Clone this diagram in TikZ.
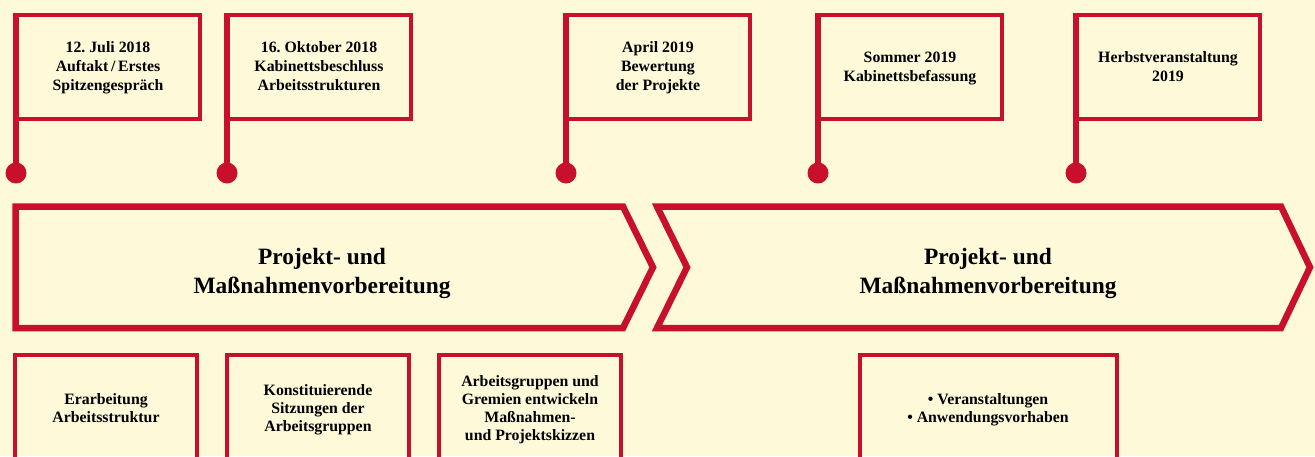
\documentclass[tikz,border=0pt]{standalone}
\usepackage{fontspec}
\setmainfont{Liberation Serif}
\usetikzlibrary{positioning}
\definecolor{flagred}{RGB}{200,16,46}
\definecolor{paper}{RGB}{254,249,216}
\frenchspacing

\begin{document}
\begin{tikzpicture}[x=1pt,y=-1pt]
\tikzstyle{flag}=[rectangle, draw=flagred, line width=4pt, minimum width=184pt, minimum height=104pt, inner sep=0pt, outer sep=0pt, text depth=0pt, align=center, font=\bfseries\fontsize{15.8}{19}\selectfont]
\tikzstyle{pole}=[draw=flagred, line width=6pt, shorten <=-2pt]
\tikzstyle{dot}=[circle, fill=flagred, minimum size=21pt, inner sep=0pt]
\tikzstyle{chevron}=[draw=flagred, line width=6.5pt]
\tikzstyle{phase}=[align=center, text depth=0pt, font=\bfseries\fontsize{23.4}{29}\selectfont]
\tikzstyle{task}=[rectangle, draw=flagred, line width=4pt, minimum width=182pt, minimum height=106pt, inner sep=0pt, text depth=0pt, align=center, font=\bfseries\fontsize{15.8}{18}\selectfont, node distance=26pt]
  \useasboundingbox (0,0) rectangle (1315,456);
  \clip (0,0) rectangle (1315,456);
  \fill[paper] (0,0) rectangle (1315,456);
  % milestones
  \node[flag] (july) at (108,66.5) {12. Juli 2018\\Auftakt\,/\,Erstes\\Spitzengespräch};
  \node[flag] (october) at (319,66.5) {16. Oktober 2018\\Kabinettsbeschluss\\Arbeitsstrukturen};
  \node[flag] (april) at (658,66.5) {April 2019\\Bewertung\\der Projekte};
  \node[flag] (summer) at (910,66.5) {Sommer 2019\\Kabinettsbefassung};
  \node[flag] (autumn) at (1168,66.5) {Herbstveranstaltung\\2019};
  \node[dot] (julydot) at (16,173) {};
  \node[dot] (octoberdot) at (227,173) {};
  \node[dot] (aprildot) at (566,173) {};
  \node[dot] (summerdot) at (818,173) {};
  \node[dot] (autumndot) at (1076,173) {};
  \draw[pole] (july.north west) -- (julydot.center);
  \draw[pole] (october.north west) -- (octoberdot.center);
  \draw[pole] (april.north west) -- (aprildot.center);
  \draw[pole] (summer.north west) -- (summerdot.center);
  \draw[pole] (autumn.north west) -- (autumndot.center);
  % phases
  \draw[chevron] (15.7,206.5) -- (623,206.5) -- (653,267.3) -- (623,328) -- (15.7,328) -- cycle;
  \draw[chevron] (657,206.5) -- (1281,206.5) -- (1310,267.3) -- (1281,328) -- (657,328) -- (687,267.3) -- cycle;
  \node[phase] (phaseone) at (322,271) {Projekt- und\\Maßnahmenvorbereitung};
  \node[phase] (phasetwo) at (988,271) {Projekt- und\\Maßnahmenvorbereitung};
  % tasks
  \node[task] (structure) at (106,408) {Erarbeitung\\Arbeitsstruktur};
  \node[task] (sessions) [right=of structure] {Konstituierende\\Sitzungen der\\Arbeitsgruppen};
  \node[task] (sketches) [right=of sessions] {Arbeitsgruppen und\\Gremien entwickeln\\Maßnahmen-\\und Projektskizzen};
  \node[task, minimum width=257pt] (events) at (988,408) {\textbullet\ Veranstaltungen\\\textbullet\ Anwendungsvorhaben};
\end{tikzpicture}
\end{document}
